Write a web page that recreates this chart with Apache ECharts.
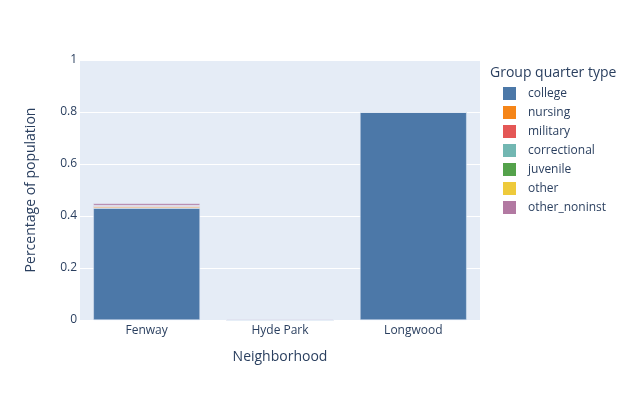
<!DOCTYPE html>
<html>
<head>
<meta charset="utf-8">
<script src="https://cdn.jsdelivr.net/npm/echarts@6/dist/echarts.min.js"></script>
<style>
  html, body { margin: 0; padding: 0; background: #fff; }
  #main { width: 640px; height: 400px; }
</style>
</head>
<body>
<div id="main"></div>
<script>
var neighborhoods = ['Fenway', 'Hyde Park', 'Longwood'];
var groupTypes = ['college', 'nursing', 'military', 'correctional', 'juvenile', 'other', 'other_noninst'];
var colors = ['#4C78A8', '#F58518', '#E45756', '#72B7B2', '#54A24B', '#EECA3B', '#B279A2'];

// share of population per neighborhood (Fenway, Hyde Park, Longwood)
var college      = [0.430, 0,     0.800];
var nursing      = [0.005, 0,     0];
var military     = [0.004, 0,     0];
var correctional = [0,     0,     0];
var juvenile     = [0,     0,     0];
var other        = [0.001, 0,     0];
var otherNoninst = [0.008, 0.003, 0.001];

var yTicks = [0, 0.2, 0.4, 0.6, 0.8, 1];

var values = [college, nursing, military, correctional, juvenile, other, otherNoninst];
var textColor = '#2a3f5f';
var font = '"Open Sans", verdana, arial, sans-serif';

var myChart = echarts.init(document.getElementById('main'));

var series = [];
for (var i = 0; i < groupTypes.length; i++) {
  series.push({
    name: groupTypes[i],
    type: 'bar',
    stack: 'total',
    data: values[i],
    barCategoryGap: '20%',
    itemStyle: { color: colors[i], borderColor: '#E5ECF6', borderWidth: 0.5 },
    emphasis: { disabled: true }
  });
}

var option = {
  backgroundColor: '#fff',
  animation: false,
  title: {
    text: 'Group quarter type',
    left: 490,
    top: 66,
    textStyle: { color: textColor, fontFamily: font, fontSize: 14, fontWeight: 'normal' },
    padding: 0
  },
  legend: {
    orient: 'vertical',
    left: 503,
    top: 87,
    itemWidth: 13,
    itemHeight: 13,
    itemGap: 6,
    icon: 'rect',
    padding: 0,
    data: groupTypes,
    itemStyle: { borderWidth: 0 },
    textStyle: { color: textColor, fontFamily: font, fontSize: 12, padding: [0, 0, 0, 7] }
  },
  grid: { left: 80, right: 160, top: 60, bottom: 80, containLabel: false,
    backgroundColor: '#E5ECF6', show: true, borderWidth: 0 },
  xAxis: {
    type: 'category',
    data: neighborhoods,
    name: 'Neighborhood',
    nameLocation: 'middle',
    nameGap: 30,
    nameTextStyle: { color: textColor, fontFamily: font, fontSize: 14 },
    axisLine: { show: false },
    axisTick: { show: false },
    axisLabel: { color: textColor, fontFamily: font, fontSize: 12, margin: 5 },
    splitLine: { show: false }
  },
  yAxis: {
    type: 'value',
    min: yTicks[0],
    max: yTicks[yTicks.length - 1],
    interval: 0.2,
    name: 'Percentage of population',
    nameLocation: 'middle',
    nameGap: 42,
    nameTextStyle: { color: textColor, fontFamily: font, fontSize: 14 },
    axisLine: { show: false },
    axisTick: { show: false },
    axisLabel: { color: textColor, fontFamily: font, fontSize: 12, margin: 3 },
    splitLine: { lineStyle: { color: '#fff', width: 1 } }
  },
  series: series
};

myChart.setOption(option);
</script>
</body>
</html>
